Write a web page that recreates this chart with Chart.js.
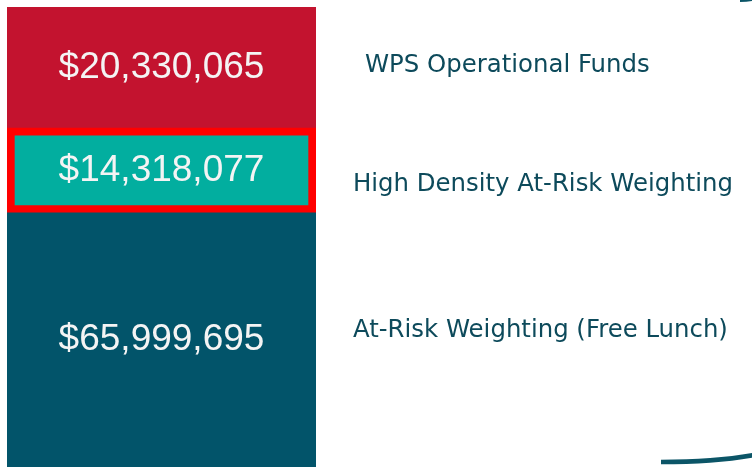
<!DOCTYPE html>
<html lang="en">
    <head>
        <meta charset="utf-8" />
        <script src="https://cdnjs.cloudflare.com/ajax/libs/Chart.js/4.4.1/chart.umd.min.js"></script>
        <title>WPS Funding</title>
        <style>
            html, body { margin: 0; padding: 0; background: #ffffff; }
            #wrap { width: 752px; height: 467px; position: relative; }
        </style>
    </head>
    <body>
        <div id="wrap"><canvas id="barra"></canvas></div>
        <script>
            // the funding pieces, bottom of the stack first
            const nombres = ["At-Risk Weighting (Free Lunch)", "High Density At-Risk Weighting", "WPS Operational Funds"];
            const valores = [65999695, 14318077, 20330065];
            const colores = ["#02546A", "#02AE9F", "#C3132F"];
            const bordes = ["#02546A", "#FF0000", "#C3132F"];
            const anchoBorde = [0, 8, 0];

            const total = valores.reduce((a, b) => a + b, 0);

            // where the right-hand labels sit, relative to their piece
            const etiquetaX = [353, 353, 365];
            const etiquetaDy = [-9, 14, -2];

            // texts inside the bars, the labels on the right and the curved line
            const textos = {
                id: "textos",
                afterDatasetsDraw(chart) {
                    const ctx = chart.ctx;
                    const area = chart.chartArea;
                    ctx.save();
                    chart.data.datasets.forEach((ds, i) => {
                        const bar = chart.getDatasetMeta(i).data[0];
                        const arriba = Math.max(bar.y, area.top);
                        const abajo = Math.min(bar.base, chart.height);
                        const medio = (arriba + abajo) / 2;
                        ctx.fillStyle = "#F4F4F4";
                        ctx.font = "37px 'Liberation Sans', Arial, sans-serif";
                        ctx.textAlign = "center";
                        ctx.textBaseline = "middle";
                        ctx.fillText("$" + ds.data[0].toLocaleString("en-US"), bar.x, medio);
                        ctx.fillStyle = "#0D4A5B";
                        ctx.font = "24.4px 'DejaVu Sans', Verdana, sans-serif";
                        ctx.textAlign = "left";
                        ctx.fillText(ds.label, etiquetaX[i], medio + etiquetaDy[i]);
                    });
                    // big bracket on the right edge
                    ctx.strokeStyle = "#0B5567";
                    ctx.lineWidth = 4.5;
                    ctx.beginPath();
                    ctx.moveTo(661, 462);
                    ctx.quadraticCurveTo(715, 462, 754, 455);
                    ctx.stroke();
                    ctx.lineWidth = 3;
                    ctx.beginPath();
                    ctx.moveTo(740, 0.5);
                    ctx.quadraticCurveTo(748, 0.5, 754, -1);
                    ctx.stroke();
                    ctx.restore();
                }
            };

            new Chart(document.getElementById("barra").getContext("2d"), {
                type: "bar",
                data: {
                    labels: ["Total"],
                    datasets: nombres.map((n, i) => ({
                        label: n,
                        data: [valores[i]],
                        backgroundColor: colores[i],
                        borderColor: bordes[i],
                        borderWidth: anchoBorde[i],
                        borderSkipped: false,
                        barPercentage: 1,
                        categoryPercentage: 1
                    }))
                },
                options: {
                    responsive: true,
                    maintainAspectRatio: false,
                    animation: false,
                    layout: { padding: { left: 7, right: 436, top: 7, bottom: 0 } },
                    scales: {
                        x: { stacked: true, display: false },
                        y: { stacked: true, display: false, min: total - 77400000, max: total }
                    },
                    plugins: {
                        legend: { display: false },
                        tooltip: { enabled: false }
                    }
                },
                plugins: [textos]
            });
        </script>
    </body>
</html>
